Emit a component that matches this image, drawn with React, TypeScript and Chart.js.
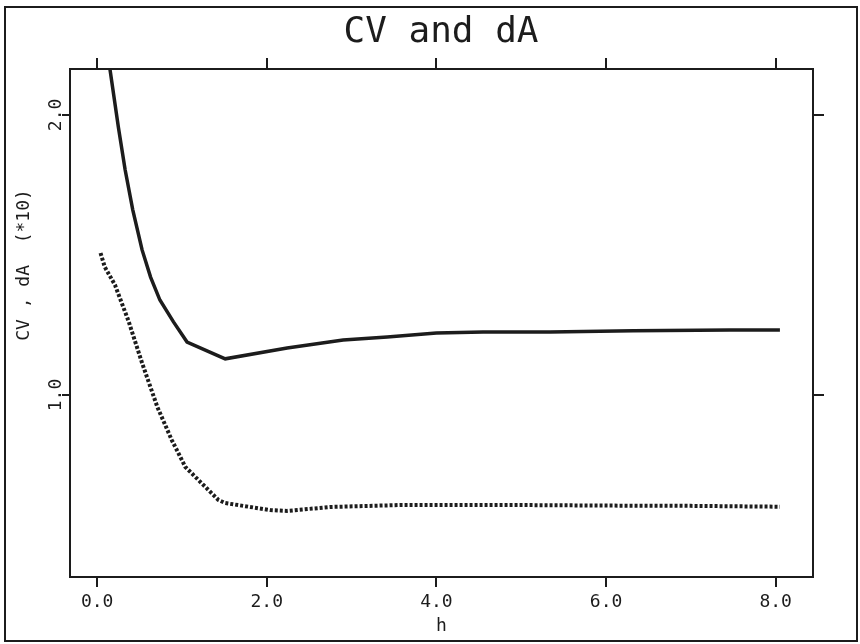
import React, { useEffect, useRef } from "react";
import { Chart, registerables } from "chart.js";

Chart.register(...registerables);

// ---- data ----
const xTickValues = [0, 2, 4, 6, 8];
const yTickValues = [1, 2];

// CV (solid line)
const cvH = [0.1, 0.25, 0.33, 0.42, 0.53, 0.63, 0.74, 0.9, 1.06, 1.51, 2.24, 2.9, 3.42, 4.0, 4.55, 5.34, 6.32, 7.46, 8.05];
const cvValues = [2.27, 1.957, 1.804, 1.661, 1.518, 1.421, 1.339, 1.261, 1.189, 1.129, 1.168, 1.196, 1.207, 1.221, 1.225, 1.225, 1.229, 1.232, 1.232];

// dA (*10) (dotted line)
const dAH = [0.04, 0.09, 0.21, 0.37, 0.53, 0.71, 0.88, 1.04, 1.43, 1.51, 2.04, 2.24, 2.75, 3.57, 4.98, 6.0, 7.0, 8.05];
const dAValues = [1.507, 1.457, 1.393, 1.264, 1.114, 0.957, 0.839, 0.743, 0.625, 0.614, 0.589, 0.586, 0.6, 0.607, 0.607, 0.605, 0.604, 0.601];

const X_MIN = -0.32;
const X_MAX = 8.44;
const Y_MIN = 0.35;
const Y_MAX = 2.164;

const TITLE = "CV and dA";
const X_TITLE = "h";
const Y_TITLE = "CV , dA  (*10)";

const INK = "#1c1c1c";
const MONO = "'DejaVu Sans Mono', monospace";

export default function App() {
  const ref = useRef<HTMLCanvasElement>(null);

  useEffect(() => {
    if (!ref.current) return;

    const framePlugin = {
      id: "frameAndYTitle",
      afterDraw(chart: any) {
        const ctx = chart.ctx;
        ctx.save();
        ctx.strokeStyle = INK;
        ctx.lineWidth = 2;
        ctx.strokeRect(5, 7, 852, 634);
        ctx.fillStyle = INK;
        ctx.font = `18px ${MONO}`;
        ctx.translate(24, 265);
        ctx.rotate(-Math.PI / 2);
        ctx.textAlign = "center";
        ctx.textBaseline = "middle";
        ctx.fillText(Y_TITLE, 0, 0);
        ctx.restore();
      },
    };

    const tickFont = { family: MONO, size: 18 };
    const setX = (s: any) => {
      s.ticks = xTickValues.map((v) => ({ value: v }));
    };
    const setY = (s: any) => {
      s.ticks = yTickValues.map((v) => ({ value: v }));
    };
    const gridBase = { drawOnChartArea: false, drawTicks: true, color: INK, lineWidth: 2 };
    const borderBase = { display: true, color: INK, width: 2 };

    const chart = new Chart(ref.current, {
      type: "line",
      data: {
        datasets: [
          {
            label: "CV",
            data: cvH.map((h, i) => ({ x: h, y: cvValues[i] })),
            borderColor: INK,
            borderWidth: 3.5,
            pointRadius: 0,
            tension: 0,
            fill: false,
            xAxisID: "x",
            yAxisID: "y",
          },
          {
            label: "dA",
            data: dAH.map((h, i) => ({ x: h, y: dAValues[i] })),
            borderColor: INK,
            borderWidth: 4,
            borderDash: [3, 2],
            borderCapStyle: "butt",
            pointRadius: 0,
            tension: 0,
            fill: false,
            xAxisID: "x",
            yAxisID: "y",
          },
        ],
      },
      options: {
        animation: false,
        responsive: false,
        layout: { padding: { left: 22, right: 0, top: 0, bottom: 0 } },
        plugins: {
          legend: { display: false },
          tooltip: { enabled: false },
          title: {
            display: true,
            text: TITLE,
            color: INK,
            font: { family: MONO, size: 36, weight: "normal" },
            padding: { top: 11.4, bottom: 0 },
          },
        },
        scales: {
          x: {
            type: "linear",
            position: "bottom",
            min: X_MIN,
            max: X_MAX,
            afterBuildTicks: setX,
            ticks: {
              callback: (v: any) => Number(v).toFixed(1),
              font: tickFont,
              color: INK,
              padding: 5,
              maxRotation: 0,
              autoSkip: false,
            },
            grid: { ...gridBase, tickLength: 10 },
            border: borderBase,
            title: {
              display: true,
              text: X_TITLE,
              color: INK,
              font: tickFont,
              padding: { top: 0, bottom: 7 },
            },
            afterFit: (s: any) => {
              s.height = 67;
            },
          },
          x2: {
            type: "linear",
            position: "top",
            min: X_MIN,
            max: X_MAX,
            afterBuildTicks: setX,
            ticks: { display: false },
            grid: { ...gridBase, tickLength: 11 },
            border: borderBase,
            afterFit: (s: any) => {
              s.height = 14.4;
            },
          },
          y: {
            type: "linear",
            position: "left",
            min: Y_MIN,
            max: Y_MAX,
            afterBuildTicks: setY,
            ticks: {
              callback: (v: any) => Number(v).toFixed(1),
              font: tickFont,
              color: INK,
              minRotation: 90,
              maxRotation: 90,
              crossAlign: "center",
              padding: -11,
            },
            grid: { ...gridBase, tickLength: 8 },
            border: borderBase,
            afterFit: (s: any) => {
              s.width = 48;
            },
          },
          y2: {
            type: "linear",
            position: "right",
            min: Y_MIN,
            max: Y_MAX,
            afterBuildTicks: setY,
            ticks: { display: false },
            grid: { ...gridBase, tickLength: 11 },
            border: borderBase,
            afterFit: (s: any) => {
              s.width = 47;
            },
          },
        },
      },
      plugins: [framePlugin],
    } as any);

    return () => chart.destroy();
  }, []);

  return (
    <div style={{ position: "fixed", left: 0, top: 0, width: 860, height: 644, background: "#fff" }}>
      <canvas ref={ref} width={860} height={644} style={{ display: "block" }} />
    </div>
  );
}
